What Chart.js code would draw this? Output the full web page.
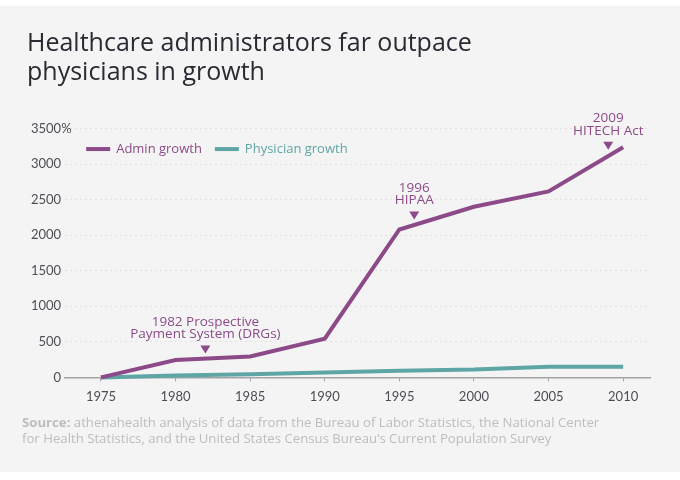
<!DOCTYPE html>
<html>
<head>
<meta charset="utf-8">
<script src="https://cdn.jsdelivr.net/npm/chart.js@4.4.1/dist/chart.umd.min.js"></script>
<style>
  html, body { margin: 0; padding: 0; background: #ffffff; }
  #wrap { width: 680px; height: 480px; }
</style>
</head>
<body>
<div id="wrap"><canvas id="growthChart" width="680" height="480"></canvas></div>
<script>
// Data
const years = [1975, 1980, 1985, 1990, 1995, 2000, 2005, 2010];
const adminGrowth = [0, 245, 295, 545, 2080, 2400, 2615, 3235];
const physicianGrowth = [0, 25, 45, 70, 95, 110, 150, 150];
const yTicks = [0, 500, 1000, 1500, 2000, 2500, 3000, 3500];

// Policy milestones (year, label lines, value the marker points at)
const eventYears = [1982, 1996, 2009];
const eventLabels = [
    ['1982 Prospective', 'Payment System (DRGs)'],
    ['1996', 'HIPAA'],
    ['2009', 'HITECH Act']
];
const eventValues = [335, 2220, 3200];

const purple = '#8d4a88';
const teal = '#5ea6a5';
const font = 'Lato, "DejaVu Sans", sans-serif';
const wideFont = '"Open Sans", Lato, sans-serif';

// page background, legend, % sign, event markers and source note
const extras = {
    id: 'extras',
    beforeDraw(chart) {
        const ctx = chart.ctx;
        ctx.save();
        ctx.fillStyle = '#f4f4f5';
        ctx.fillRect(0, 6, chart.width, 466);
        ctx.restore();
    },
    afterDraw(chart) {
        const ctx = chart.ctx;
        const x = chart.scales.x;
        const y = chart.scales.y;
        const area = chart.chartArea;
        ctx.save();

        // "%" after the top tick
        ctx.font = '13px ' + font;
        ctx.fillStyle = '#4d4d55';
        ctx.textAlign = 'left';
        ctx.textBaseline = 'middle';
        ctx.fillText('%', y.right - 4, y.getPixelForValue(yTicks[yTicks.length - 1]));

        // legend inside the plot
        let lx = area.left + 21;
        const ly = y.getPixelForValue(3000) - 15;
        chart.data.datasets.forEach(ds => {
            ctx.strokeStyle = ds.borderColor;
            ctx.lineWidth = 4;
            ctx.beginPath();
            ctx.moveTo(lx, ly);
            ctx.lineTo(lx + 24, ly);
            ctx.stroke();
            ctx.font = '500 13px ' + wideFont;
            ctx.fillStyle = ds.borderColor;
            ctx.fillText(ds.label, lx + 30, ly);
            lx += 30 + ctx.measureText(ds.label).width + 13;
        });

        // event markers
        ctx.textAlign = 'center';
        eventYears.forEach((yr, i) => {
            const px = x.getPixelForValue(yr);
            const py = y.getPixelForValue(eventValues[i]);
            ctx.fillStyle = purple;
            ctx.beginPath();
            ctx.moveTo(px - 5, py - 8);
            ctx.lineTo(px + 5, py - 8);
            ctx.lineTo(px, py);
            ctx.closePath();
            ctx.fill();
            ctx.font = '500 13.5px ' + wideFont;
            const lines = eventLabels[i];
            lines.forEach((t, j) => {
                ctx.fillText(t, px, py - 19 - (lines.length - 1 - j) * 12.5);
            });
        });

        // source note
        ctx.textAlign = 'left';
        ctx.fillStyle = '#bdbdc0';
        ctx.font = 'bold 13.2px ' + wideFont;
        ctx.fillText('Source:', 22, 423);
        const sw = ctx.measureText('Source: ').width;
        ctx.font = '13.2px ' + wideFont;
        ctx.fillText('athenahealth analysis of data from the Bureau of Labor Statistics, the National Center', 22 + sw, 423);
        ctx.fillText('for Health Statistics, and the United States Census Bureau\u2019s Current Population Survey', 22, 439);
        ctx.restore();
    }
};

const ctx = document.getElementById('growthChart').getContext('2d');
const growthChart = new Chart(ctx, {
    type: 'line',
    data: {
        datasets: [{
            label: 'Admin growth',
            data: years.map((yr, i) => ({ x: yr, y: adminGrowth[i] })),
            borderColor: purple,
            borderWidth: 4,
            pointRadius: 0,
            tension: 0,
            clip: false
        }, {
            label: 'Physician growth',
            data: years.map((yr, i) => ({ x: yr, y: physicianGrowth[i] })),
            borderColor: teal,
            borderWidth: 4,
            pointRadius: 0,
            tension: 0,
            clip: false
        }]
    },
    options: {
        responsive: false,
        animation: false,
        layout: {
            padding: { left: 27, right: 30, top: 29, bottom: 67 }
        },
        plugins: {
            legend: { display: false },
            tooltip: { enabled: false },
            title: {
                display: true,
                text: ['Healthcare administrators far outpace', 'physicians in growth'],
                align: 'start',
                color: '#2b2a33',
                font: { family: wideFont, size: 25, weight: 500, lineHeight: 1.16 },
                padding: { top: 0, bottom: 41.5 }
            }
        },
        scales: {
            x: {
                type: 'linear',
                min: 1972.6,
                max: 2011.8,
                afterBuildTicks: axis => {
                    axis.ticks = years.map(v => ({ value: v }));
                },
                grid: {
                    drawOnChartArea: false,
                    drawTicks: true,
                    tickLength: 4,
                    color: '#a3a3a8'
                },
                border: { display: true, color: '#a3a3a8', width: 1.5 },
                ticks: {
                    color: '#4d4d55',
                    font: { family: font, size: 13 },
                    padding: 8,
                    callback: v => String(v)
                }
            },
            y: {
                min: 0,
                max: 3500,
                afterBuildTicks: axis => {
                    axis.ticks = yTicks.map(v => ({ value: v }));
                },
                grid: {
                    drawTicks: false,
                    color: 'rgba(0, 0, 0, 0.07)',
                    lineWidth: 1
                },
                border: { display: false, dash: [2, 3] },
                ticks: {
                    color: '#4d4d55',
                    font: { family: font, size: 13 },
                    padding: 4,
                    callback: v => String(v)
                }
            }
        }
    },
    plugins: [extras]
});
</script>
</body>
</html>
